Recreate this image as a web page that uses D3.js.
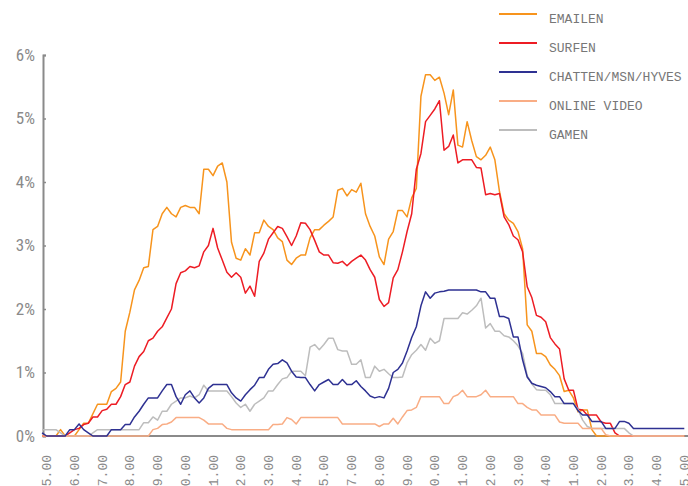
<!DOCTYPE html>
<html>
<head>
<meta charset="utf-8">
<script src="https://cdn.jsdelivr.net/npm/d3@7"></script>
<style>
  html, body { margin: 0; padding: 0; background: #fff; }
  svg { display: block; }
</style>
</head>
<body>
<svg id="chart" width="688" height="486"></svg>
<script>
// ---- DATA ----
const tickLabels = ["05.00","06.00","07.00","08.00","09.00","10.00","11.00","12.00","13.00","14.00","15.00",
  "17.00","18.00","19.00","20.00","21.00","22.00","23.00","24.00","01.00","02.00","03.00","04.00","05.00"];
const yTicks = [0, 1, 2, 3, 4, 5, 6];
const seriesNames = ["EMAILEN", "SURFEN", "CHATTEN/MSN/HYVES", "ONLINE VIDEO", "GAMEN"];
const seriesColors = ["#f7941d", "#ed1c24", "#2e3192", "#f9ad85", "#bdbdbd"];
// samples every 1/6 of a tick interval, first sample 1/6 before the first tick
const emailen = [0,0,0,0,0.1,0,0,0,0.1,0.2,0.2,0.35,0.5,0.5,0.5,0.7,0.75,0.85,1.65,1.95,
  2.3,2.45,2.65,2.67,3.25,3.3,3.5,3.6,3.5,3.45,3.6,3.63,3.6,3.6,3.5,4.2,4.2,4.1,4.25,4.3,
  4.0,3.05,2.8,2.77,2.95,2.85,3.2,3.2,3.4,3.3,3.25,3.12,3.06,2.77,2.7,2.8,2.85,2.85,3.12,3.25,
  3.25,3.32,3.38,3.45,3.87,3.9,3.78,3.88,3.84,3.98,3.5,3.3,3.15,2.82,2.7,3.1,3.22,3.55,3.55,3.45,
  3.75,3.9,5.35,5.69,5.69,5.6,5.65,5.4,5.06,5.45,4.58,4.55,4.95,4.65,4.4,4.35,4.42,4.55,4.35,3.85,
  3.5,3.4,3.35,3.22,2.95,1.75,1.65,1.3,1.3,1.25,1.12,1.05,0.95,0.7,0.72,0.6,0.38,0.41,0.41,0.1,
  0,0,0,0,0,0,0,0,0,0,0,0,0,0,0,0,0,0,0,0];
const surfen = [0,0,0,0,0,0,0.05,0.1,0.12,0.18,0.2,0.3,0.3,0.4,0.42,0.5,0.5,0.62,0.81,0.85,
  1.1,1.25,1.33,1.5,1.54,1.65,1.72,1.86,2.0,2.4,2.57,2.6,2.67,2.65,2.68,2.9,3.0,3.27,2.96,2.77,
  2.58,2.5,2.57,2.5,2.25,2.36,2.2,2.75,2.88,3.1,3.2,3.3,3.27,3.14,3.0,3.15,3.36,3.35,3.25,3.08,
  2.9,2.85,2.85,2.73,2.72,2.75,2.68,2.75,2.8,2.85,2.77,2.62,2.5,2.15,2.04,2.1,2.49,2.62,2.9,3.22,
  3.5,4.2,4.45,4.95,5.05,5.15,5.28,4.5,4.56,4.74,4.3,4.35,4.35,4.35,4.23,4.22,3.8,3.82,3.8,3.82,
  3.45,3.33,3.15,3.09,2.9,2.35,2.18,1.9,1.87,1.8,1.55,1.45,1.37,0.9,0.72,0.72,0.42,0.41,0.33,0.33,
  0.33,0.22,0.2,0.2,0.05,0,0,0,0,0,0,0,0,0,0,0,0,0,0,0];
const chatten = [0.05,0,0,0,0,0,0.1,0.1,0.19,0.1,0.05,0,0,0,0,0.1,0.1,0.1,0.18,0.18,
  0.3,0.39,0.5,0.6,0.6,0.6,0.71,0.81,0.81,0.62,0.5,0.65,0.71,0.6,0.52,0.6,0.75,0.81,0.81,0.81,
  0.81,0.68,0.6,0.55,0.65,0.73,0.8,0.92,0.92,1.05,1.13,1.14,1.2,1.15,1.02,0.93,0.92,0.92,0.81,0.71,
  0.81,0.85,0.89,0.81,0.81,0.89,0.81,0.81,0.87,0.78,0.71,0.63,0.6,0.62,0.6,0.75,1.0,1.05,1.15,1.34,
  1.55,1.72,2.05,2.27,2.17,2.25,2.27,2.28,2.3,2.3,2.3,2.3,2.3,2.3,2.3,2.27,2.27,2.17,2.17,1.88,
  1.88,1.85,1.56,1.56,1.2,0.93,0.83,0.8,0.78,0.76,0.7,0.62,0.62,0.51,0.51,0.51,0.4,0.33,0.33,0.23,
  0.23,0.23,0.12,0.12,0.12,0.23,0.23,0.2,0.12,0.12,0.12,0.12,0.12,0.12,0.12,0.12,0.12,0.12,0.12,0.12];
const onlineVideo = [0,0,0,0,0,0,0,0,0,0,0,0,0,0,0,0,0,0,0,0,
  0,0,0,0,0.1,0.12,0.18,0.19,0.22,0.29,0.29,0.29,0.29,0.29,0.29,0.25,0.19,0.19,0.19,0.19,
  0.12,0.1,0.1,0.1,0.1,0.1,0.1,0.1,0.1,0.1,0.18,0.18,0.19,0.29,0.26,0.19,0.29,0.29,0.29,0.29,
  0.29,0.29,0.29,0.29,0.29,0.19,0.19,0.19,0.19,0.19,0.19,0.19,0.19,0.15,0.19,0.19,0.28,0.19,0.3,0.4,
  0.41,0.45,0.62,0.62,0.62,0.62,0.62,0.51,0.51,0.62,0.65,0.72,0.62,0.62,0.62,0.65,0.72,0.62,0.62,0.62,
  0.62,0.62,0.62,0.51,0.51,0.45,0.41,0.41,0.33,0.33,0.33,0.33,0.22,0.2,0.2,0.2,0.2,0.12,0.12,0.12,
  0.12,0.12,0.02,0,0,0,0,0,0,0,0,0,0,0,0,0,0,0,0,0];
const gamen = [0.1,0.1,0.1,0.1,0.05,0,0,0,0,0,0,0.05,0.1,0.1,0.1,0.1,0.1,0.1,0.1,0.1,
  0.1,0.1,0.21,0.21,0.3,0.25,0.39,0.39,0.5,0.55,0.6,0.6,0.63,0.6,0.65,0.8,0.71,0.71,0.71,0.71,
  0.71,0.62,0.52,0.45,0.5,0.39,0.5,0.55,0.6,0.71,0.71,0.81,0.9,0.92,1.02,1.02,1.02,0.95,1.4,1.44,
  1.36,1.44,1.54,1.54,1.36,1.34,1.34,1.13,1.13,1.2,0.92,0.92,1.1,1.02,1.05,0.98,0.92,0.92,0.93,1.15,
  1.28,1.35,1.44,1.35,1.54,1.46,1.5,1.85,1.85,1.85,1.85,1.94,1.92,1.98,2.05,2.17,1.7,1.77,1.65,1.65,
  1.58,1.56,1.5,1.42,1.3,0.95,0.82,0.73,0.72,0.72,0.65,0.51,0.51,0.51,0.51,0.51,0.42,0.25,0.15,0.12,
  0.12,0.12,0.12,0.12,0.12,0.12,0.12,0.05,0,0,0,0,0,0,0,0,0,0,0,0];
const seriesValues = [emailen, surfen, chatten, onlineVideo, gamen];
const samplesPerTick = 6;

// ---- CHART ----
const svg = d3.select("#chart");
const x = d3.scaleLinear().domain([0, tickLabels.length - 1]).range([46.7, 684.3]);
const y = d3.scaleLinear().domain([0, 6]).range([436, 55]);
const grey = "#8a8a8a";

// y axis
const yAxis = d3.axisLeft(y).tickValues(yTicks).tickFormat(d => d + "%").tickSize(-3).tickPadding(8);
const gy = svg.append("g").attr("transform", "translate(43,0)").call(yAxis);
gy.select(".domain").attr("stroke", grey).attr("stroke-width", 2);
gy.selectAll(".tick line").attr("stroke", grey).attr("stroke-width", 1.5);
gy.selectAll(".tick text")
  .attr("fill", "#8a8a8a")
  .style("font-family", "'Liberation Sans Narrow', 'Arial Narrow', 'Roboto Condensed', sans-serif")
  .style("font-size", "17px");

// x axis baseline
svg.append("line").attr("x1", 43).attr("x2", 688).attr("y1", y(0)).attr("y2", y(0))
  .attr("stroke", grey).attr("stroke-width", 2);

// x tick labels (rotated; clipped by the bottom edge as in the original)
svg.append("g").selectAll("text").data(tickLabels).join("text")
  .attr("transform", (d, i) => `translate(${x(i)},455) rotate(-90)`)
  .attr("text-anchor", "end")
  .attr("dy", "0.35em")
  .attr("fill", "#8a8a8a")
  .style("font-family", "'Liberation Mono', 'DejaVu Sans Mono', monospace")
  .style("font-size", "13px")
  .text(d => d);

// lines
const line = d3.line()
  .x((d, i) => x((i - 1) / samplesPerTick))
  .y(d => y(d));
const drawOrder = [0, 1, 4, 3, 2];
svg.append("g").selectAll("path").data(drawOrder).join("path")
  .attr("d", k => line(seriesValues[k]))
  .attr("fill", "none")
  .attr("stroke", k => seriesColors[k])
  .attr("stroke-width", 1.5)
  .attr("stroke-linejoin", "round");

// legend
const legend = svg.append("g").selectAll("g").data(seriesNames).join("g")
  .attr("transform", (d, i) => `translate(499,${14 + i * 29})`);
legend.append("line").attr("x1", 0).attr("x2", 38).attr("y1", 0).attr("y2", 0)
  .attr("stroke", (d, i) => seriesColors[i]).attr("stroke-width", 2);
legend.append("text").attr("x", 50).attr("y", 8.5)
  .attr("fill", "#777")
  .style("font-family", "'Liberation Mono', 'DejaVu Sans Mono', monospace")
  .style("font-size", "13px")
  .text(d => d);
</script>
</body>
</html>
